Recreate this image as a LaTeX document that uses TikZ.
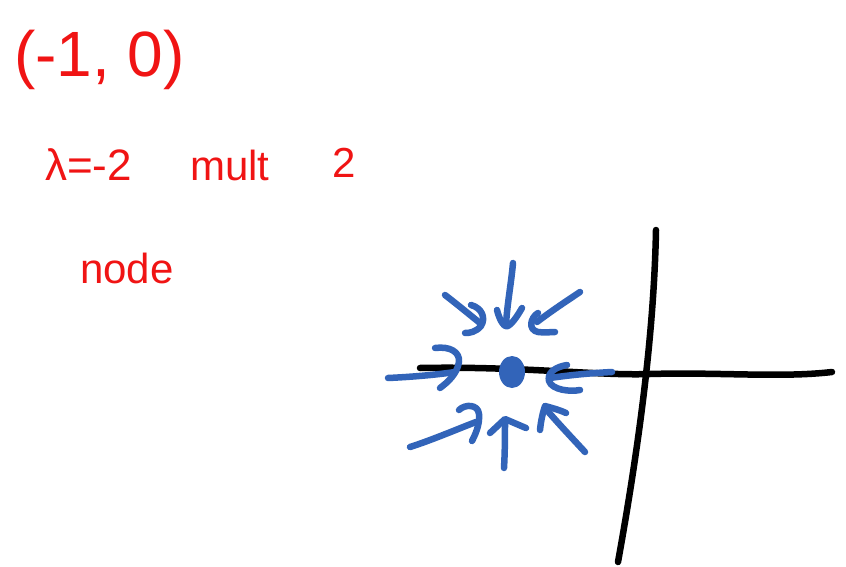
\documentclass[tikz,border=0pt]{standalone}
\usepackage{fontspec}
\setmainfont{Liberation Sans}
\definecolor{penred}{RGB}{240,20,20}
\definecolor{penblue}{RGB}{50,100,185}
\tikzset{
  hand/.style={line width=6.5pt, line cap=round, line join=round},
  axisline/.style={hand, black},
  flow/.style={hand, penblue},
  note/.style={text=penred, anchor=west, inner sep=0pt},
}
\begin{document}
\begin{tikzpicture}[x=1pt,y=-1pt]
\useasboundingbox[fill=white] (0,0) rectangle (846,567);
% notes
\node[note, font=\fontsize{64}{64}\selectfont] (pt) at (14,60) {(-1, 0)};
\node[note, font=\fontsize{44}{44}\selectfont] (lam) at (45,165) {λ=-2};
\node[note, font=\fontsize{42}{42}\selectfont] (mult) at (190,165) {mult};
\node[note, font=\fontsize{42}{42}\selectfont] (two) at (332,163) {2};
\node[note, font=\fontsize{42}{42}\selectfont] (nd) at (80,268) {node};
% axes
\draw[axisline] (420,368) .. controls (520,366) and (600,376) .. (650,374) .. controls (720,372) and (780,378) .. (832,372);
\draw[axisline] (656,230) .. controls (654,330) and (640,440) .. (618,562);
% fixed point
\fill[penblue] (512,372) ellipse (13 and 16);
% inward arrows
% top
\draw[flow] (513,263) .. controls (511,285) and (507,305) .. (506,325);
\draw[flow] (497,310) .. controls (500,322) and (505,328) .. (508,326) .. controls (514,322) and (519,313) .. (522,308);
% upper left
\draw[flow] (445,295) .. controls (458,305) and (470,315) .. (480,323);
\draw[flow] (471,305) .. controls (482,308) and (486,318) .. (481,326) .. controls (476,332) and (470,333) .. (465,333);
% upper right
\draw[flow] (580,292) .. controls (565,302) and (550,312) .. (537,322);
\draw[flow] (538,313) .. controls (530,318) and (528,330) .. (538,332) .. controls (545,333) and (550,332) .. (555,332);
% left
\draw[flow] (388,378) .. controls (410,377) and (435,375) .. (455,372);
\draw[flow] (435,348) .. controls (450,346) and (460,352) .. (459,362) .. controls (457,374) and (448,382) .. (440,388);
% right
\draw[flow] (612,372) .. controls (592,373) and (570,375) .. (550,378);
\draw[flow] (567,365) .. controls (555,367) and (547,373) .. (549,381) .. controls (552,390) and (570,392) .. (580,390);
% lower left
\draw[flow] (410,447) .. controls (432,440) and (455,430) .. (476,422);
\draw[flow] (459,410) .. controls (465,404) and (478,404) .. (479,414) .. controls (480,425) and (475,435) .. (472,441);
% bottom
\draw[flow] (504,468) .. controls (505,450) and (505,435) .. (505,420);
\draw[flow] (490,433) -- (505,419) -- (526,428);
% lower right
\draw[flow] (585,452) .. controls (572,438) and (557,422) .. (545,408);
\draw[flow] (540,430) .. controls (541,420) and (543,412) .. (545,406) .. controls (552,408) and (560,410) .. (566,413);
\end{tikzpicture}
\end{document}
